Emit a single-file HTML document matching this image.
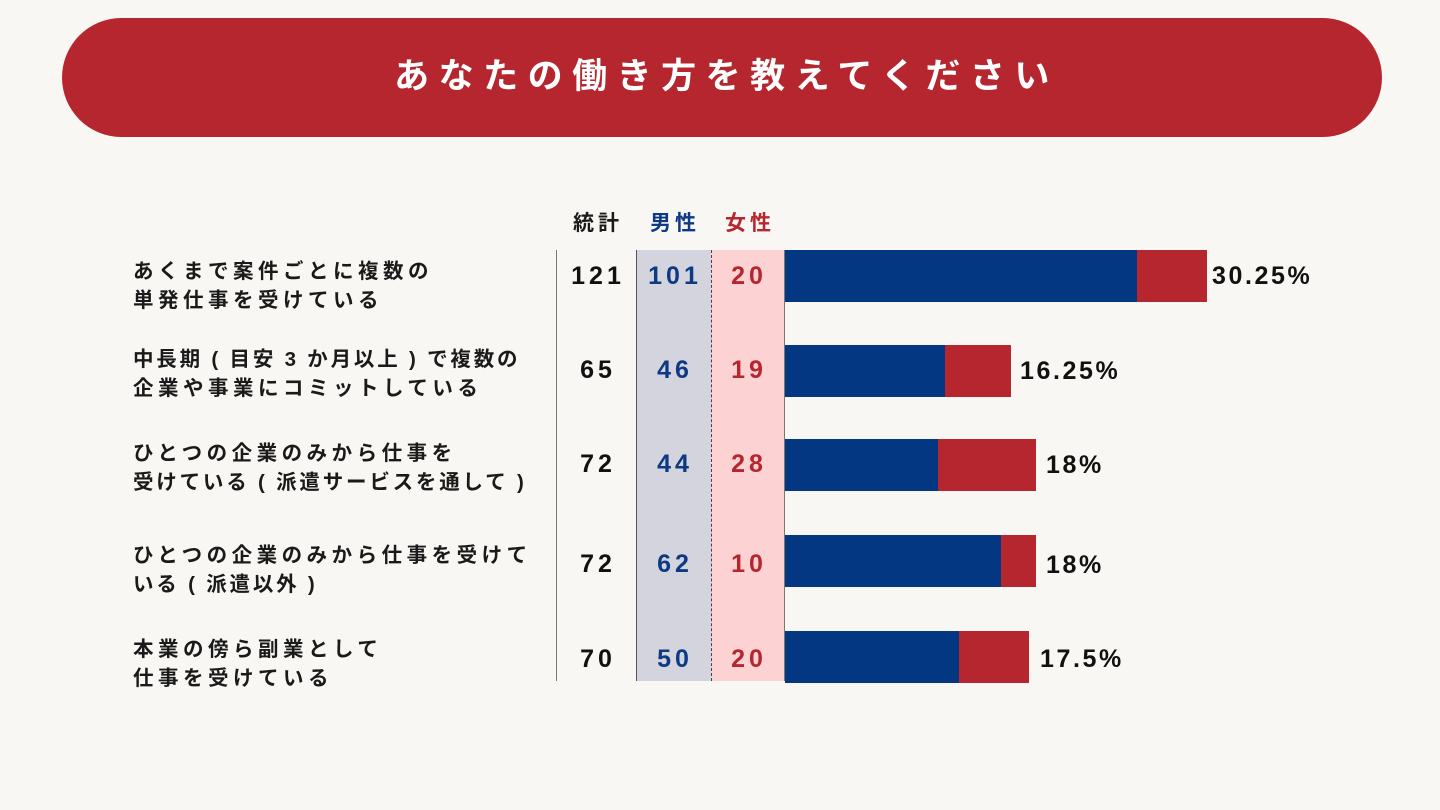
<!DOCTYPE html>
<html><head><meta charset="utf-8"><style>
body{margin:0;width:1440px;height:810px;background:#F8F7F4;position:relative;overflow:hidden;font-family:"Liberation Sans","Noto Sans CJK JP",sans-serif;font-weight:bold}
.a{position:absolute}
.banner{left:62px;top:18px;width:1320px;height:119px;border-radius:60px;background:#B5262E;color:#fff;font-size:35px;letter-spacing:9.5px;text-indent:9px;text-align:center;line-height:117px}
.lab{left:133px;font-size:20.5px;line-height:29px;color:#1a1a1a;letter-spacing:4.5px;white-space:nowrap}
.t{letter-spacing:2.8px}
.n{font-size:25px;letter-spacing:4px;text-indent:4px;text-align:center;width:80px}
.pct{font-size:25px;color:#111;letter-spacing:2.6px}
.h{font-size:21px;letter-spacing:4px;text-indent:4px;text-align:center}
</style></head><body>
<div class="a banner">あなたの働き方を教えてください</div>
<div class="a h" style="left:557px;top:207px;width:78px;color:#1a1a1a">統計</div>
<div class="a h" style="left:635px;top:207px;width:76px;color:#0E3A84">男性</div>
<div class="a h" style="left:710px;top:207px;width:76px;color:#B5262E">女性</div>
<div class="a" style="left:636px;top:250px;width:75px;height:431px;background:#D3D4DD;border-left:1px solid #555;box-sizing:border-box"></div>
<div class="a" style="left:711px;top:250px;width:73px;height:431px;background:#FDD2D2;border-left:1px dashed #444;box-sizing:border-box"></div>
<div class="a" style="left:556px;top:250px;width:1px;height:431px;background:#777"></div>
<div class="a" style="left:784px;top:250px;width:1px;height:431px;background:#777"></div>

<div class="a lab" style="top:257px">あくまで案件ごとに複数の<br>単発仕事を受けている</div>
<div class="a lab" style="top:345px"><span class="t">中長期 ( 目安 3 か月以上 ) で複数の</span><br>企業や事業にコミットしている</div>
<div class="a lab" style="top:439px">ひとつの企業のみから仕事を<br><span class="t">受けている ( 派遣サービスを通して )</span></div>
<div class="a lab" style="top:541px">ひとつの企業のみから仕事を受けて<br><span class="t">いる ( 派遣以外 )</span></div>
<div class="a lab" style="top:635px">本業の傍ら副業として<br>仕事を受けている</div>

<div class="a n" style="left:556px;top:262px;color:#111">121</div>
<div class="a n" style="left:633px;top:262px;color:#0E3A84">101</div>
<div class="a n" style="left:707px;top:262px;color:#B5262E">20</div>
<div class="a n" style="left:556px;top:356px;color:#111">65</div>
<div class="a n" style="left:633px;top:356px;color:#0E3A84">46</div>
<div class="a n" style="left:707px;top:356px;color:#B5262E">19</div>
<div class="a n" style="left:556px;top:450px;color:#111">72</div>
<div class="a n" style="left:633px;top:450px;color:#0E3A84">44</div>
<div class="a n" style="left:707px;top:450px;color:#B5262E">28</div>
<div class="a n" style="left:556px;top:550px;color:#111">72</div>
<div class="a n" style="left:633px;top:550px;color:#0E3A84">62</div>
<div class="a n" style="left:707px;top:550px;color:#B5262E">10</div>
<div class="a n" style="left:556px;top:645px;color:#111">70</div>
<div class="a n" style="left:633px;top:645px;color:#0E3A84">50</div>
<div class="a n" style="left:707px;top:645px;color:#B5262E">20</div>

<div class="a" style="left:785px;top:250px;width:352px;height:52px;background:#033782"></div>
<div class="a" style="left:1137px;top:250px;width:70px;height:52px;background:#B5262E"></div>
<div class="a pct" style="left:1212px;top:262px">30.25%</div>
<div class="a" style="left:785px;top:345px;width:160px;height:52px;background:#033782"></div>
<div class="a" style="left:945px;top:345px;width:66px;height:52px;background:#B5262E"></div>
<div class="a pct" style="left:1020px;top:357px">16.25%</div>
<div class="a" style="left:785px;top:439px;width:153px;height:52px;background:#033782"></div>
<div class="a" style="left:938px;top:439px;width:98px;height:52px;background:#B5262E"></div>
<div class="a pct" style="left:1046px;top:451px">18%</div>
<div class="a" style="left:785px;top:535px;width:216px;height:52px;background:#033782"></div>
<div class="a" style="left:1001px;top:535px;width:35px;height:52px;background:#B5262E"></div>
<div class="a pct" style="left:1046px;top:551px">18%</div>
<div class="a" style="left:785px;top:631px;width:174px;height:52px;background:#033782"></div>
<div class="a" style="left:959px;top:631px;width:70px;height:52px;background:#B5262E"></div>
<div class="a pct" style="left:1040px;top:645px">17.5%</div>
</body></html>
